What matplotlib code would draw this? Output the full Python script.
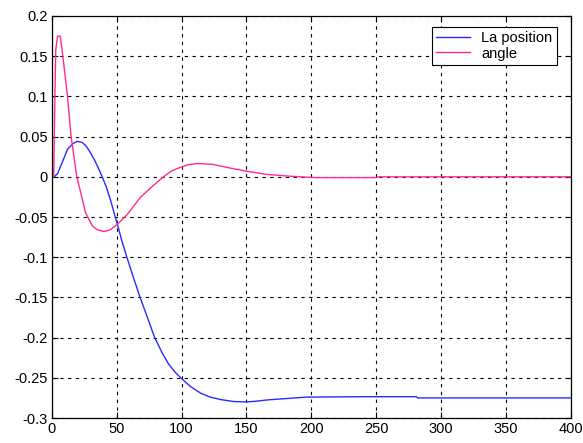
import matplotlib
matplotlib.use("Agg")
from matplotlib import pyplot as plt

# values
pos_t = [0, 1.8, 4.4, 9.5, 12, 16, 19.5, 23, 26, 29, 32.5, 35.5, 38.8, 42, 45, 50.5,
         54, 58, 63, 68, 73, 79, 85, 90, 95, 100, 107, 114.6, 122, 130, 140, 150,
         158, 166, 179, 196, 240, 281, 282, 400]
pos_y = [0, 0, 0.004, 0.024, 0.034, 0.041, 0.044, 0.043, 0.039, 0.032, 0.022, 0.012, 0.0,
         -0.013, -0.028, -0.059, -0.080, -0.101, -0.126, -0.150, -0.172, -0.199, -0.219,
         -0.233, -0.243, -0.251, -0.261, -0.269, -0.274, -0.277, -0.2795, -0.280,
         -0.279, -0.2775, -0.276, -0.274, -0.2735, -0.2735, -0.275, -0.275]

ang_t = [0, 1.4, 2.4, 3.0, 4.4, 6.4, 8.2, 12, 14.6, 19.2, 22.3, 26, 31.2, 35, 40.2, 45,
         50.5, 58, 68, 76, 85.9, 92, 98.6, 105, 112, 124, 137, 150, 165.5, 183, 203,
         250, 252, 400]
ang_y = [0, 0, 0.11, 0.158, 0.175, 0.175, 0.153, 0.101, 0.053, 0.0, -0.02, -0.045,
         -0.061, -0.066, -0.068, -0.066, -0.059, -0.047, -0.026, -0.014, 0.0, 0.007,
         0.0115, 0.015, 0.0165, 0.0155, 0.011, 0.007, 0.003, 0.0008, -0.001, -0.001,
         0.0, 0.0]

x_ticks = [0, 50, 100, 150, 200, 250, 300, 350, 400]
y_ticks = [0.2, 0.15, 0.1, 0.05, 0, -0.05, -0.1, -0.15, -0.2, -0.25, -0.3]

plt.rcParams['font.family'] = ['Liberation Sans', 'DejaVu Sans']

fig = plt.figure(figsize=(5.83, 4.43), dpi=100)
ax = fig.add_axes([0.089, 0.0564, 0.890, 0.9075])

ax.plot(pos_t, pos_y, color='#2a2aff', lw=1.0, label='La position')
ax.plot(ang_t, ang_y, color='#ff2a8f', lw=1.0, label='angle')

ax.set_xlim(0, 400)
ax.set_ylim(-0.3, 0.2)
ax.set_xticks(x_ticks)
ax.set_yticks(y_ticks)
ax.set_xticklabels([str(v) for v in x_ticks])
ax.set_yticklabels(['0.2', '0.15', '0.1', '0.05', '0', '-0.05', '-0.1', '-0.15',
                    '-0.2', '-0.25', '-0.3'])
ax.tick_params(direction='in', length=4, width=0.8, labelsize=10.5, pad=3,
               top=True, right=True, colors='black')
ax.grid(True, color='black', linestyle=(0, (3, 4)), linewidth=0.8)
for s in ax.spines.values():
    s.set_linewidth(0.9)

leg = ax.legend(loc='upper right', fontsize=10.5, frameon=True, fancybox=False,
                borderpad=0.3, handlelength=2.3, handletextpad=0.8,
                labelspacing=0.1, borderaxespad=0.6, bbox_to_anchor=(0.99, 0.995))
leg.get_frame().set_edgecolor('black')
leg.get_frame().set_linewidth(0.8)
leg.get_frame().set_alpha(1)

fig.savefig('out.png', dpi=100)
